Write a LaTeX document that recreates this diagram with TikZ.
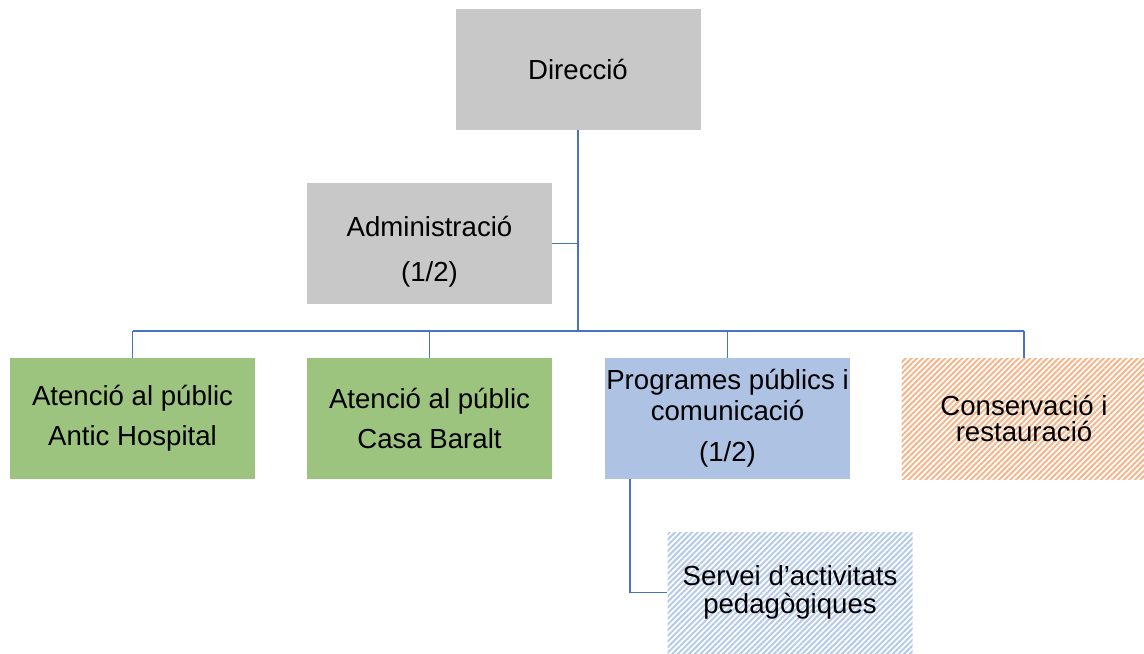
\documentclass[tikz,border=0pt]{standalone}
\usepackage{fontspec}
\setmainfont{Liberation Sans}
\usetikzlibrary{patterns.meta}

\definecolor{boxgray}{HTML}{C9C8C8}
\definecolor{boxgreen}{HTML}{9CC47E}
\definecolor{boxblue}{HTML}{AEC2E4}
\definecolor{hatchorange}{HTML}{F5B68C}
\definecolor{hatchblue}{HTML}{B7CAEA}
\definecolor{linkblue}{HTML}{4A72C2}

\begin{document}
\begin{tikzpicture}[x=0.5pt,y=-0.5pt,
	unit/.style={minimum width=122.5pt, minimum height=60.5pt, inner sep=0pt, align=center,
		font=\fontsize{13.8}{20}\selectfont},
	grayunit/.style={unit, fill=boxgray},
	greenunit/.style={unit, fill=boxgreen},
	blueunit/.style={unit, fill=boxblue},
	hatched/.style={unit, fill=white, postaction={pattern={Lines[angle=45,distance=2pt,line width=1pt]}, pattern color=#1}},
	link/.style={draw=linkblue, line width=0.9pt}]
	\useasboundingbox (0,0) rectangle (1144,653);

	% top of the chart
	\node[grayunit] (dir) at (578,69) {Direcció};
	\node[grayunit, font=\fontsize{13.8}{22.5}\selectfont] (adm) at (429.5,243.5) {\\[-4pt]Administració\\(1/2)};

	% units
	\node[greenunit] (hosp) at (132.5,418.5) {Atenció al públic\\Antic Hospital};
	\node[greenunit] (baralt) at (429.5,418.5) {Atenció al públic\\Casa Baralt};
	\node[blueunit, font=\fontsize{13.8}{15.5}\selectfont] (prog) at (727.5,418.5) {Programes públics i\\comunicació\\[5pt](1/2)};
	\node[hatched=hatchorange, font=\fontsize{13.8}{13}\selectfont] (cons) at (1024,418.5) {Conservació i\\restauració};
	\node[hatched=hatchblue, font=\fontsize{13.8}{14.3}\selectfont] (serv) at (790,592.5) {Servei d’activitats\\pedagògiques};

	% connectors
	\coordinate (bus) at (578,331);
	\draw[link] (dir.south) -- (bus);
	\draw[link] (adm.east) -- (dir.south |- adm.east);
	\draw[link] (hosp.north |- bus) -- (cons.north |- bus);
	\foreach \n in {hosp,baralt,prog,cons} {
		\draw[link] (\n.north |- bus) -- (\n.north);
	}
	\draw[link] ([xshift=12.5pt]prog.south west) |- (serv.west);
\end{tikzpicture}
\end{document}
